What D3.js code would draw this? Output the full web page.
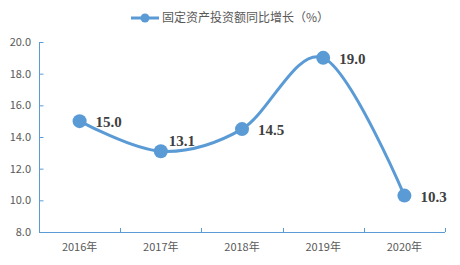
<!DOCTYPE html>
<html>
<head>
<meta charset="utf-8">
<script src="https://cdn.jsdelivr.net/npm/d3@7"></script>
<style>
  body { margin: 0; background: #fff; }
  .axis text { font-family: "Microsoft YaHei", "Noto Sans CJK SC", sans-serif; font-size: 11px; fill: #595959; }
  .axis path, .axis line { stroke: #5b9bd5; }
</style>
</head>
<body>
<svg id="chart" width="460" height="265"></svg>
<script>
var years = ["2016年", "2017年", "2018年", "2019年", "2020年"];
var growth = [15.0, 13.1, 14.5, 19.0, 10.3];
var yTicks = [8, 10, 12, 14, 16, 18, 20];
var seriesName = "固定资产投资额同比增长（%）";

var svg = d3.select("#chart");
var color = "#5b9bd5";
var plotL = 39, plotR = 445, plotT = 42, plotB = 232;

var x = d3.scaleBand().domain(years).range([plotL, plotR]);
var y = d3.scaleLinear().domain([8, 20]).range([plotB, plotT]);

// y axis, ticks pointing inward
svg.append("g").attr("class", "axis")
  .attr("transform", `translate(${plotL},0)`)
  .call(d3.axisRight(y).tickValues(yTicks).tickSize(4).tickFormat(d3.format(".1f")))
  .call(g => g.select(".domain").attr("d", `M0.5,${plotT}V${plotB}`))
  .call(g => g.selectAll("line").attr("x1", 0.5).attr("x2", 4.5))
  .call(g => g.selectAll("text").attr("x", -8).attr("text-anchor", "end"));

// x axis with ticks between categories
var xa = svg.append("g").attr("class", "axis")
  .attr("transform", `translate(0,${plotB})`);
xa.append("path").attr("d", `M${plotL},0.5H${plotR}`).attr("fill", "none");
var edges = years.map(d => x(d)).concat([plotR]);
xa.selectAll("line.edge").data(edges).enter().append("line")
  .attr("x1", d => Math.round(d) + 0.5).attr("x2", d => Math.round(d) + 0.5)
  .attr("y1", 0).attr("y2", -4);
xa.selectAll("text").data(years).enter().append("text")
  .attr("x", d => x(d) + x.bandwidth() / 2)
  .attr("y", 19).attr("text-anchor", "middle")
  .text(d => d);

// smooth line
var cx = (d, i) => x(years[i]) + x.bandwidth() / 2;
var line = d3.line()
  .x(cx)
  .y(d => y(d))
  .curve(d3.curveCardinal.tension(0));
svg.append("path").datum(growth)
  .attr("d", line).attr("fill", "none")
  .attr("stroke", color).attr("stroke-width", 3);

svg.selectAll("circle.pt").data(growth).enter().append("circle")
  .attr("cx", cx)
  .attr("cy", d => y(d)).attr("r", 7).attr("fill", color);

// labels sit to the right; the lowest-in-valley one (2017) sits above-right
svg.selectAll("text.lbl").data(growth).enter().append("text")
  .attr("x", (d, i) => cx(d, i) + (i === 1 ? 8 : 16))
  .attr("y", (d, i) => y(d) + (i === 1 ? -5 : 6))
  .attr("font-family", "'Liberation Serif', 'Times New Roman', serif")
  .attr("font-weight", "bold").attr("font-size", 15).attr("fill", "#404040")
  .text(d => d.toFixed(1));

// legend
var lg = svg.append("g");
lg.append("line").attr("x1", 131).attr("x2", 159).attr("y1", 18).attr("y2", 18)
  .attr("stroke", color).attr("stroke-width", 3);
lg.append("circle").attr("cx", 145).attr("cy", 18).attr("r", 4.5).attr("fill", color);
lg.append("text").attr("x", 162).attr("y", 22)
  .attr("font-family", "'Noto Sans CJK SC', sans-serif").attr("font-size", 12).attr("fill", "#595959")
  .text(seriesName);
</script>
</body>
</html>
